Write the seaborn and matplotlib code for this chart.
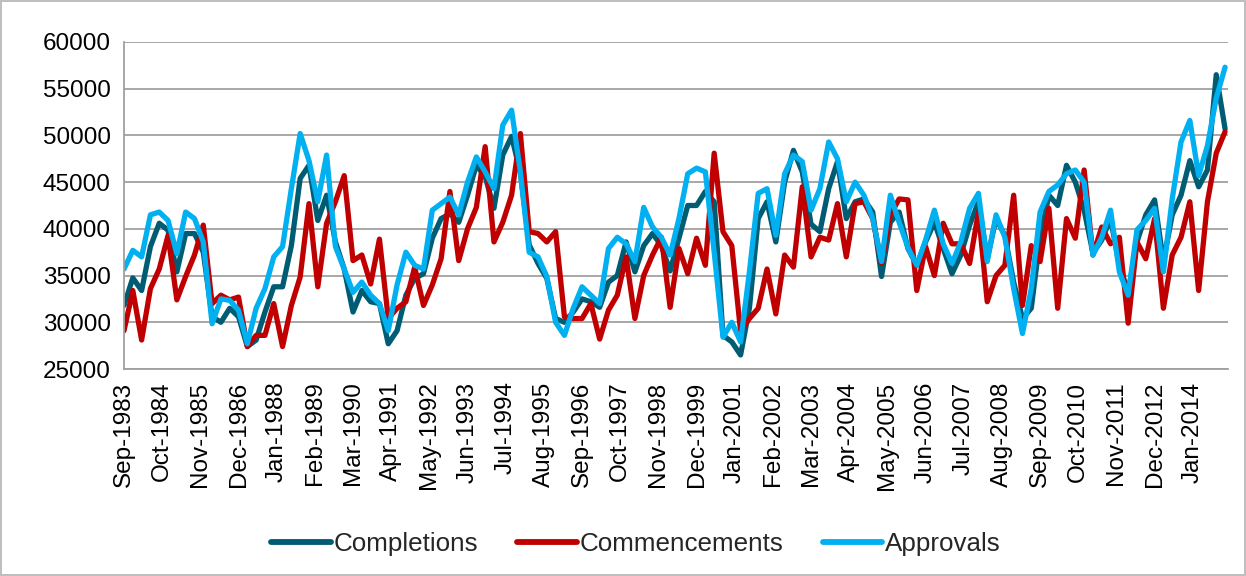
import numpy as np
import pandas as pd
import matplotlib
matplotlib.use("Agg")
import matplotlib.pyplot as plt
import seaborn as sns

# quarterly series, Sep-1983 .. Dec-2014
completions = [
    31800, 34750, 33400, 38100, 40600, 39850, 35400, 39500, 39500, 37500,
    30600, 30000, 31500, 30600, 27400, 28100, 31100, 33800, 33800, 38200,
    45400, 46800, 40900, 43600, 38600, 35700, 31100, 33400, 32200, 32000,
    27700, 29100, 32900, 34700, 35200, 39000, 41100, 41600, 40700, 43600,
    46800, 45600, 42200, 47900, 49900, 46000, 38300, 36300, 34700, 30400,
    30000, 31100, 32500, 32200, 31600, 34300, 35000, 38600, 35400, 38200,
    39500, 38200, 35500, 39000, 42500, 42500, 44000, 42900, 28600, 27900,
    26500, 31500, 41100, 42900, 38600, 45000, 48400, 46100, 40500, 39700,
    44300, 47200, 41100, 42900, 43200, 41800, 34900, 40700, 41800, 37900,
    36100, 38600, 40700, 37900, 35200, 37200, 40400, 42900, 36800, 41100,
    39300, 34300, 30400, 31500, 39000, 43600, 42500, 46800, 45000, 42000,
    37400, 38800, 41100, 36100, 33200, 38600, 41500, 43100, 36500, 41500,
    43600, 47300, 44500, 46300, 56500, 50700,
]
commencements = [
    29100, 33400, 28100, 33600, 35700, 39300, 32400, 34900, 37200, 40400,
    32000, 32900, 32400, 32700, 27400, 28600, 28600, 32000, 27400, 31800,
    34850, 42700, 33800, 40600, 42900, 45700, 36600, 37200, 34100, 38900,
    30400, 31500, 32200, 35900, 31800, 34000, 36800, 44000, 36600, 40000,
    42300, 48800, 38600, 40700, 43600, 50200, 39700, 39500, 38600, 39700,
    30600, 30400, 30400, 32000, 28200, 31300, 32900, 37000, 30400, 35000,
    37200, 39100, 31600, 37900, 35200, 39000, 36100, 48100, 39700, 38200,
    29000, 30400, 31500, 35700, 30900, 37200, 35900, 44500, 37000, 39100,
    38800, 42700, 37000, 42700, 42900, 41100, 36300, 41500, 43200, 43100,
    33400, 38100, 35000, 40600, 38400, 38400, 36300, 41800, 32200, 35000,
    36100, 43600, 31800, 38200, 36500, 42200, 31500, 41100, 39000, 46300,
    37200, 40200, 38400, 39100, 29900, 38600, 36800, 41100, 31500, 37200,
    39100, 42900, 33400, 42900, 48100, 50400,
]
approvals = [
    35700, 37700, 37000, 41500, 41800, 40900, 37350, 41800, 41100, 38600,
    29850, 32500, 32350, 31300, 27700, 31500, 33600, 37000, 38100, 44300,
    50200, 47300, 42900, 47900, 38100, 35700, 33200, 34300, 32900, 32000,
    29100, 34000, 37500, 36100, 35700, 42000, 42700, 43400, 41500, 45000,
    47700, 46100, 44300, 51100, 52700, 46100, 37500, 37000, 34900, 30000,
    28600, 31500, 33800, 32900, 32000, 37900, 39100, 38400, 36500, 42300,
    40200, 39100, 37200, 41100, 45900, 46500, 46100, 37500, 28400, 30000,
    27900, 35400, 43800, 44300, 39300, 45900, 47900, 47200, 42000, 44300,
    49300, 47500, 42900, 45000, 43600, 41100, 36500, 43600, 40700, 38000,
    36100, 38800, 42000, 38400, 36300, 38600, 42200, 43800, 36500, 41500,
    39100, 33600, 28800, 33600, 41800, 44000, 44700, 45900, 46300, 45000,
    37200, 39100, 42000, 35400, 32900, 39900, 40900, 42200, 35400, 43200,
    49300, 51600, 45700, 48900, 54000, 57300,
]
series_names = ["Completions", "Commencements", "Approvals"]
colors = {"Completions": "#005C73", "Commencements": "#C00000", "Approvals": "#00B0F0"}

dates = pd.date_range("1983-09-01", periods=len(completions), freq="3MS")
tick_dates = pd.date_range("1983-09-01", periods=29, freq="13MS")
start = dates[0]


def month_offset(d):
    return (d.year - start.year) * 12 + (d.month - start.month)


x = [month_offset(d) for d in dates]
tick_pos = [month_offset(d) for d in tick_dates]
tick_labels = [d.strftime("%b-%Y") for d in tick_dates]

df = pd.concat([
    pd.DataFrame({"month": x, "value": vals, "series": name})
    for name, vals in zip(series_names, [completions, commencements, approvals])
])

sns.set_style("white")
plt.rcParams["font.family"] = ["Liberation Sans", "DejaVu Sans"]

fig = plt.figure(figsize=(12.46, 5.76), dpi=100, edgecolor="#BFBFBF", linewidth=1.5)
ax = fig.add_axes([124 / 1246, 1 - 369 / 576, (1228 - 124) / 1246, (369 - 42) / 576])

ax.set_axisbelow(True)
ax.yaxis.grid(True, color="#A0A0A0", linewidth=1.3)
sns.lineplot(data=df, x="month", y="value", hue="series", hue_order=series_names,
             palette=colors, linewidth=3.8, ax=ax, legend=False, sort=False)

ax.set_ylim(25000, 60000)
ax.set_yticks(np.arange(25000, 60001, 5000))
ax.set_xlim(0, 376)
ax.set_xticks(tick_pos)
ax.set_xticklabels(tick_labels, rotation=90)
ax.set_xlabel("")
ax.set_ylabel("")
ax.tick_params(axis="both", labelsize=17.5, colors="#A0A0A0", labelcolor="black",
               length=6, width=1.3, direction="out")
ax.tick_params(axis="x", pad=3)
for side in ["top", "right"]:
    ax.spines[side].set_visible(False)
for side in ["left", "bottom"]:
    ax.spines[side].set_color("#A0A0A0")
    ax.spines[side].set_linewidth(1.3)

handles = [plt.Line2D([], [], color=colors[n], linewidth=4.2) for n in series_names]
fig.legend(handles, series_names, loc="center", bbox_to_anchor=(636 / 1246, 1 - 544 / 576),
           ncol=3, frameon=False, fontsize=18.7, handlelength=2.3, handletextpad=0.1,
           columnspacing=1.5)

fig.savefig("out.png", dpi=100, edgecolor=fig.get_edgecolor())
